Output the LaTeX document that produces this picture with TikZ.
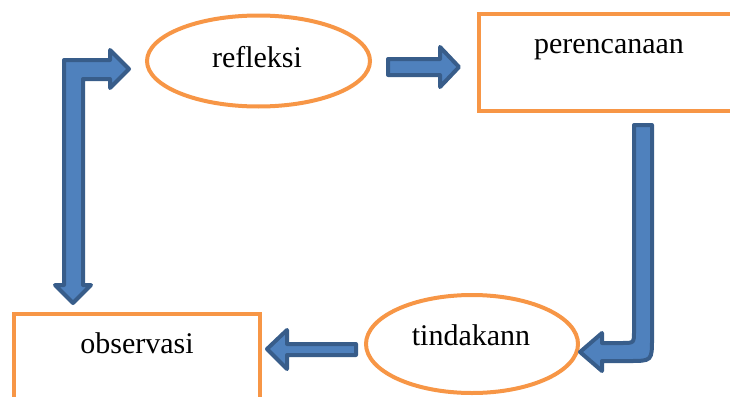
\documentclass[tikz,border=0pt]{standalone}
\usepackage{fontspec}
\setmainfont{Liberation Serif}
\usetikzlibrary{shapes.geometric}
\definecolor{boxorange}{HTML}{F79646}
\definecolor{arrowfill}{HTML}{4F81BD}
\definecolor{arrowedge}{HTML}{385D8A}
\begin{document}
\begin{tikzpicture}[x=0.75pt,y=-0.75pt,
  stage/.style={draw=boxorange, line width=3pt, inner sep=0pt, outer sep=0pt},
  oval/.style={stage, ellipse},
  block/.style={stage, rectangle},
  caption/.style={anchor=base, font=\fontsize{22.5}{27}\selectfont, inner sep=0pt},
  blockarrow/.style={fill=arrowfill, draw=arrowedge, line width=3pt, line join=round}]
\useasboundingbox (0,0) rectangle (730,396);
\clip (0,0) rectangle (730,396);

% the four stages of the cycle
\node[oval, minimum width=167.25pt, minimum height=68.25pt] (refleksi) at (258.5,61) {};
\node[block, minimum width=195.75pt, minimum height=72.75pt] (perencanaan) at (609.5,62.5) {};
\node[oval, minimum width=159pt, minimum height=73.5pt] (tindakann) at (472,344) {};
\node[block, minimum width=184.5pt, minimum height=72pt] (observasi) at (137,362) {};

% stage names
\node[caption] (trefleksi) at (257,67) {refleksi};
\node[caption] (tperencanaan) at (609,53) {perencanaan};
\node[caption] (ttindakann) at (471,345) {tindakann};
\node[caption] (tobservasi) at (137,353) {observasi};

% block arrows between the stages
\draw[blockarrow] (388,59) -- (440,59) -- (440,47) -- (459,67) -- (440,87)
  -- (440,75) -- (388,75) -- cycle;
\draw[blockarrow] (634,125) -- (652,125) -- (652,338) .. controls (652,361) .. (629,361)
  -- (602,361) -- (602,371) -- (580,352) -- (602,333) -- (602,343) -- (622,343)
  .. controls (634,343) .. (634,331) -- cycle;
\draw[blockarrow] (356,344) -- (287,344) -- (287,330) -- (267,349) -- (287,369)
  -- (287,355) -- (356,355) -- cycle;
\draw[blockarrow] (73,303) -- (91,285) -- (83,285) -- (83,79) -- (110,79) -- (110,88)
  -- (129,69) -- (110,50) -- (110,60) -- (64,60) -- (64,285) -- (55,285) -- cycle;
\end{tikzpicture}
\end{document}
